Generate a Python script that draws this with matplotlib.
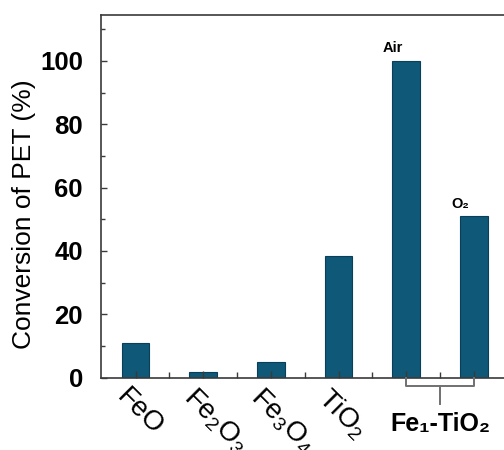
import matplotlib
matplotlib.use("Agg")
from matplotlib import pyplot as plt
from matplotlib import transforms
import numpy as np

plt.rcParams['font.family'] = ['Liberation Sans', 'DejaVu Sans']
plt.rcParams['mathtext.fontset'] = 'custom'
plt.rcParams['mathtext.rm'] = 'Liberation Sans'
plt.rcParams['mathtext.it'] = 'Liberation Sans:italic'
plt.rcParams['mathtext.bf'] = 'Liberation Sans:bold'
plt.rcParams['mathtext.default'] = 'regular'

# catalysts and PET conversion (%)
catalysts = ['FeO', 'Fe$_2$O$_3$', 'Fe$_3$O$_4$', 'TiO$_2$', '', '']
conversion = [10.9, 1.7, 5.0, 38.5, 100.0, 51.0]
atmosphere = ['Air', 'O\u2082']
group_label = 'Fe\u2081-TiO\u2082'

bar_color = '#0f5878'
edge_color = '#0b3f57'
axis_color = '#3a3a3a'

fig = plt.figure(figsize=(5.04, 4.5), dpi=100)
ax = fig.add_axes([0.2004, 0.1607, 0.8207, 0.806])

x = np.arange(len(conversion))
ax.bar(x, conversion, width=0.41, color=bar_color, edgecolor=edge_color,
       linewidth=0.8, zorder=2)
ax.set_axisbelow(False)

ax.set_xlim(-0.51, 5.6)
ax.set_ylim(0, 114.5)

# y axis
ax.set_yticks(np.arange(0, 101, 20))
ax.set_yticks(np.arange(10, 111, 20), minor=True)
ax.tick_params(axis='y', which='major', direction='in', length=4, width=1,
               color=axis_color, labelsize=18.5, pad=13)
ax.tick_params(axis='y', which='minor', direction='in', length=3, width=1,
               color=axis_color)
for lab in ax.get_yticklabels():
    lab.set_fontweight('bold')

ax.set_ylabel('Conversion of PET (%)', fontsize=19)
ax.yaxis.set_label_coords(24 / 504, 1 - 214 / 450, transform=fig.transFigure)
ax.yaxis.label.set_va('center')

# x axis, labels slanted down to the right
ax.set_xticks(x)
ax.set_xticks(x[:-1] + 0.5, minor=True)
ax.set_xticklabels(catalysts, fontsize=20)
ax.tick_params(axis='x', which='major', direction='in', length=5, width=1,
               color=axis_color, pad=0)
ax.tick_params(axis='x', which='minor', direction='in', length=4, width=1,
               color=axis_color)
shift = transforms.ScaledTranslation(-6 / 100, -6 / 100, fig.dpi_scale_trans)
for lab in ax.get_xticklabels():
    lab.set_rotation(-45)
    lab.set_rotation_mode('anchor')
    lab.set_ha('left')
    lab.set_va('top')
    lab.set_transform(lab.get_transform() + shift)

for side in ['left', 'bottom', 'top', 'right']:
    ax.spines[side].set_color(axis_color)
    ax.spines[side].set_linewidth(1.2)

# labels above the Fe1-TiO2 bars
for xi, name in zip(x[4:], atmosphere):
    ax.annotate(name, (xi, conversion[xi]), xytext=(-10, 4),
                textcoords='offset points', ha='center', va='bottom',
                fontsize=10.5, fontweight='bold')

# bracket grouping the two Fe1-TiO2 bars
br = dict(color='#707070', lw=1.4, clip_on=False, zorder=3)
ax.plot([4, 4, 5, 5], [0, -2.5, -2.5, 0], **br)
ax.plot([4.5, 4.5], [-2.5, -8.3], **br)
ax.text(4.5, -14.5, group_label, ha='center', va='center', fontsize=18,
        fontweight='bold', clip_on=False)

fig.savefig('out.png', dpi=100)
